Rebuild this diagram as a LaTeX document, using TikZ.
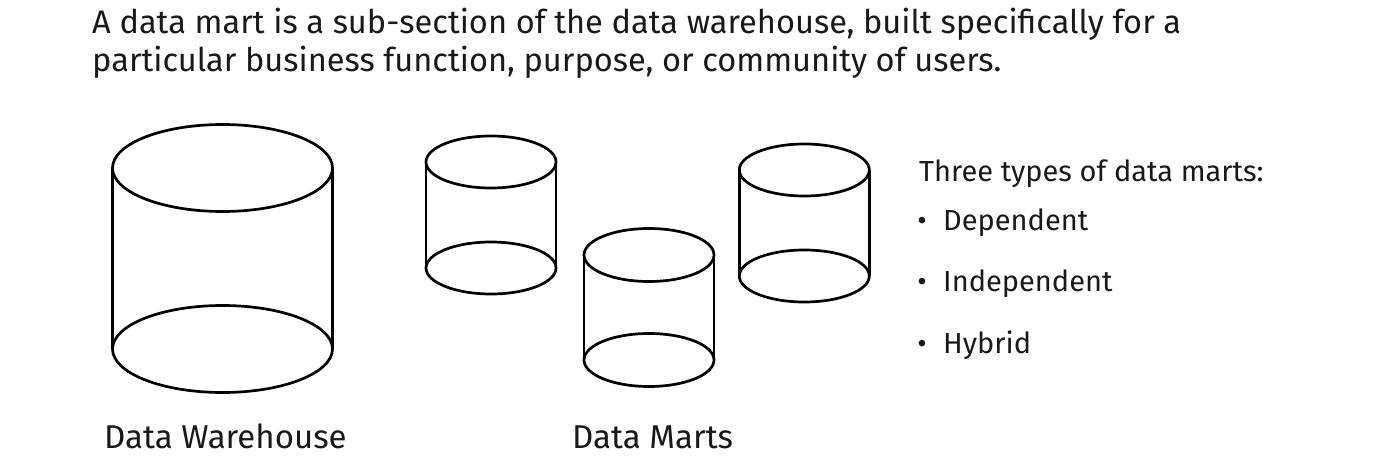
\documentclass[tikz,border=0pt]{standalone}
\usepackage{fontspec}
\setmainfont{Fira Sans}
\usetikzlibrary{positioning}

\tikzset{
  drum/.style={line width=2.7pt, line join=round},
  headtext/.style={anchor=base west, inner sep=0pt, font=\fontsize{32.6}{38}\selectfont, text=black!90},
  listtext/.style={anchor=base west, inner sep=0pt, font=\fontsize{29}{34}\selectfont, text=black!90},
  dot/.style={anchor=base, inner sep=0pt, font=\fontsize{29}{34}\selectfont, text=black!90},
  captext/.style={anchor=base west, inner sep=0pt, font=\fontsize{33}{38}\selectfont, text=black!90}
}

% cylinder: centre x, top y, bottom y, half width, half height of the ellipse
\newcommand{\drumcyl}[6]{%
  \draw[drum] (#2,#3) ellipse ({#5} and {#6});
  \draw[drum] (#2,#4) ellipse ({#5} and {#6});
  \draw[drum] (#2-#5,#3) coordinate (#1-tl) -- (#2-#5,#4) coordinate (#1-bl);
  \draw[drum] (#2+#5,#3) coordinate (#1-tr) -- (#2+#5,#4) coordinate (#1-br);
}

\begin{document}
\begin{tikzpicture}[x=1pt,y=-1pt]
  \useasboundingbox (0,0) rectangle (1400,468);

  \node[headtext](head1) at (92,33.3) {A data mart is a sub-section of the data warehouse, built specifically for a};
  \node[headtext](head2) at (92,71.7) {particular business function, purpose, or community of users.};

  \drumcyl{dwh}{222.5}{168}{349}{110}{43.5}
  \drumcyl{dm1}{491}{162}{268}{65}{26}
  \drumcyl{dm2}{649}{255}{360}{65}{26.5}
  \drumcyl{dm3}{804.3}{170}{276}{65}{26}

  \node[captext](dwhlabel) at (104,448.3) {Data Warehouse};
  \node[captext](dmlabel) at (572,448.3) {Data Marts};

  \node[listtext](types) at (919,181.7) {Three types of data marts:};
  \node[listtext](dep) at (943,230.7) {Dependent};
  \node[listtext](indep) at (943,291.7) {Independent};
  \node[listtext](hyb) at (943,353) {Hybrid};
  \node[dot](b1) at (922,230.7) {•};
  \node[dot](b2) at (922,291.7) {•};
  \node[dot](b3) at (922,353) {•};
\end{tikzpicture}
\end{document}
